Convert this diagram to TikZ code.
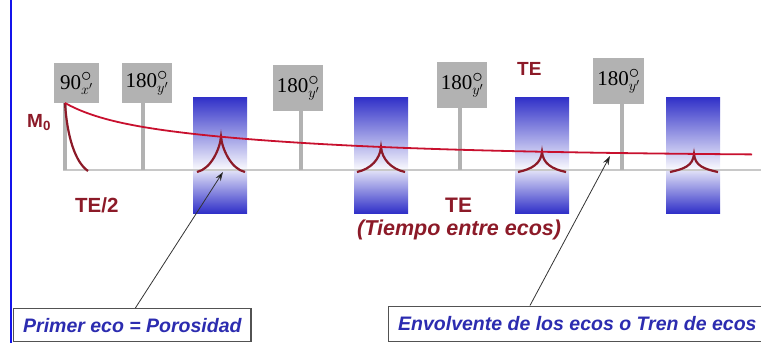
\documentclass[tikz,border=0pt]{standalone}
\usepackage{fontspec}
\setmainfont{Liberation Serif}
\newfontfamily\arialf{Liberation Sans}
\usetikzlibrary{arrows.meta,calc}
\definecolor{dred}{RGB}{140,26,40}
\definecolor{envred}{RGB}{200,16,46}
\definecolor{pgray}{RGB}{178,178,178}
\definecolor{bgray}{RGB}{200,200,200}
\definecolor{eblue}{RGB}{48,48,200}
\definecolor{tblue}{RGB}{44,44,176}
\definecolor{lblue}{RGB}{20,20,235}
\newcommand{\pdeg}[2]{#1$^{\textstyle\circ}_{#2}$}
\begin{document}
\begin{tikzpicture}[x=1pt,y=-1pt,
  pulse/.style={fill=pgray, inner sep=0pt, anchor=north west, font=\fontsize{21}{21}\selectfont},
  stem/.style={pgray, line width=4pt},
  echoline/.style={dred, line width=2.2pt},
  lab/.style={text=dred, inner sep=0pt, anchor=base west},
  callout/.style={draw=black!68, line width=1.4pt, fill=white, text=tblue, anchor=north west,
    font=\arialf\bfseries\itshape\fontsize{19.5}{22}\selectfont, inner xsep=9.5pt, inner ysep=0pt},
  arr/.style={black!80, line width=0.8pt, -{Stealth[length=9pt,width=6pt,fill=black]}}]
\useasboundingbox (0,0) rectangle (761,343);

% left blue line
\draw[lblue, line width=1.6pt] (11,0) -- (11,343);

% blue receiver windows
\foreach \bx in {193,354,515,666}{
  \shade[top color=eblue, middle color=eblue!38, bottom color=eblue!3] (\bx,97) rectangle ({\bx+54},169);
  \shade[top color=eblue!14, bottom color=eblue] (\bx,170) rectangle ({\bx+54},213);
}

% baseline
\draw[bgray, line width=2pt] (63,170) -- (761,170);

% pulses
\node[pulse, minimum width=45pt, minimum height=40pt] (p0) at (54,63) {\pdeg{90}{x'}};
\node[pulse, minimum width=50pt, minimum height=40pt] (p1) at (122,63) {\pdeg{180}{y'}};
\node[pulse, minimum width=50pt, minimum height=46pt] (p2) at (273,65) {\pdeg{180}{y'}};
\node[pulse, minimum width=50pt, minimum height=46pt] (p3) at (437,62) {\pdeg{180}{y'}};
\node[pulse, minimum width=51pt, minimum height=46pt] (p4) at (593,58) {\pdeg{180}{y'}};

\coordinate (b0) at (65,170);
\coordinate (b1) at (143,170);
\coordinate (b2) at (301,170);
\coordinate (b3) at (460,170);
\coordinate (b4) at (622,170);
\draw[stem] (b0 |- p0.south) -- (b0);
\draw[stem] (b1 |- p1.south) -- (b1);
\draw[stem] (b2 |- p2.south) -- (b2);
\draw[stem] (b3 |- p3.south) -- (b3);
\draw[stem] (b4 |- p4.south) -- (b4);

% FID
\draw[echoline] (65,103) .. controls (67,136) and (75,162) .. (88,171);

% echoes
\foreach \ex in {221,381,542,694}{
  \pgfmathsetmacro\ep{156-13.4*exp(-(\ex-65)/36)-39.6*exp(-(\ex-65)/214)}
  \draw[echoline] ({\ex-24},172) .. controls ({\ex-10},169) and ({\ex-1},{\ep+12}) .. (\ex,\ep)
     .. controls ({\ex+1},{\ep+12}) and ({\ex+10},169) .. ({\ex+24},172);
}

% envelope
\draw[envred, line width=1.8pt] plot[domain=65:752, samples=120, smooth]
  (\x, {156-13.4*exp(-(\x-65)/36)-39.6*exp(-(\x-65)/214)});

% labels
\node[lab, font=\arialf\bfseries\fontsize{19}{22}\selectfont] (m0) at (27,127) {M\textsubscript{0}};
\node[lab, font=\arialf\bfseries\fontsize{19}{22}\selectfont] (te1) at (517,75) {TE};
\node[lab, font=\arialf\bfseries\fontsize{20.5}{24}\selectfont] (te2) at (75,212) {TE/2};
\node[lab, font=\arialf\bfseries\fontsize{21}{24}\selectfont] (te3) at (445,212) {TE};
\node[lab, font=\arialf\bfseries\itshape\fontsize{21.5}{24}\selectfont] (tiempo) at (357,235) {(Tiempo entre ecos)};

% callouts
\node[callout, minimum height=33pt] (primer) at (13,308) {Primer eco = Porosidad};
\node[callout, minimum height=35pt] (envol) at (388,305.5) {Envolvente de los ecos o Tren de ecos};

\coordinate (tip1) at (223,172);
\coordinate (tip2) at (610,156);
\draw[arr] ([xshift=3pt]primer.north) -- (tip1);
\draw[arr] ([xshift=142pt]envol.north west) -- (tip2);
\end{tikzpicture}
\end{document}
